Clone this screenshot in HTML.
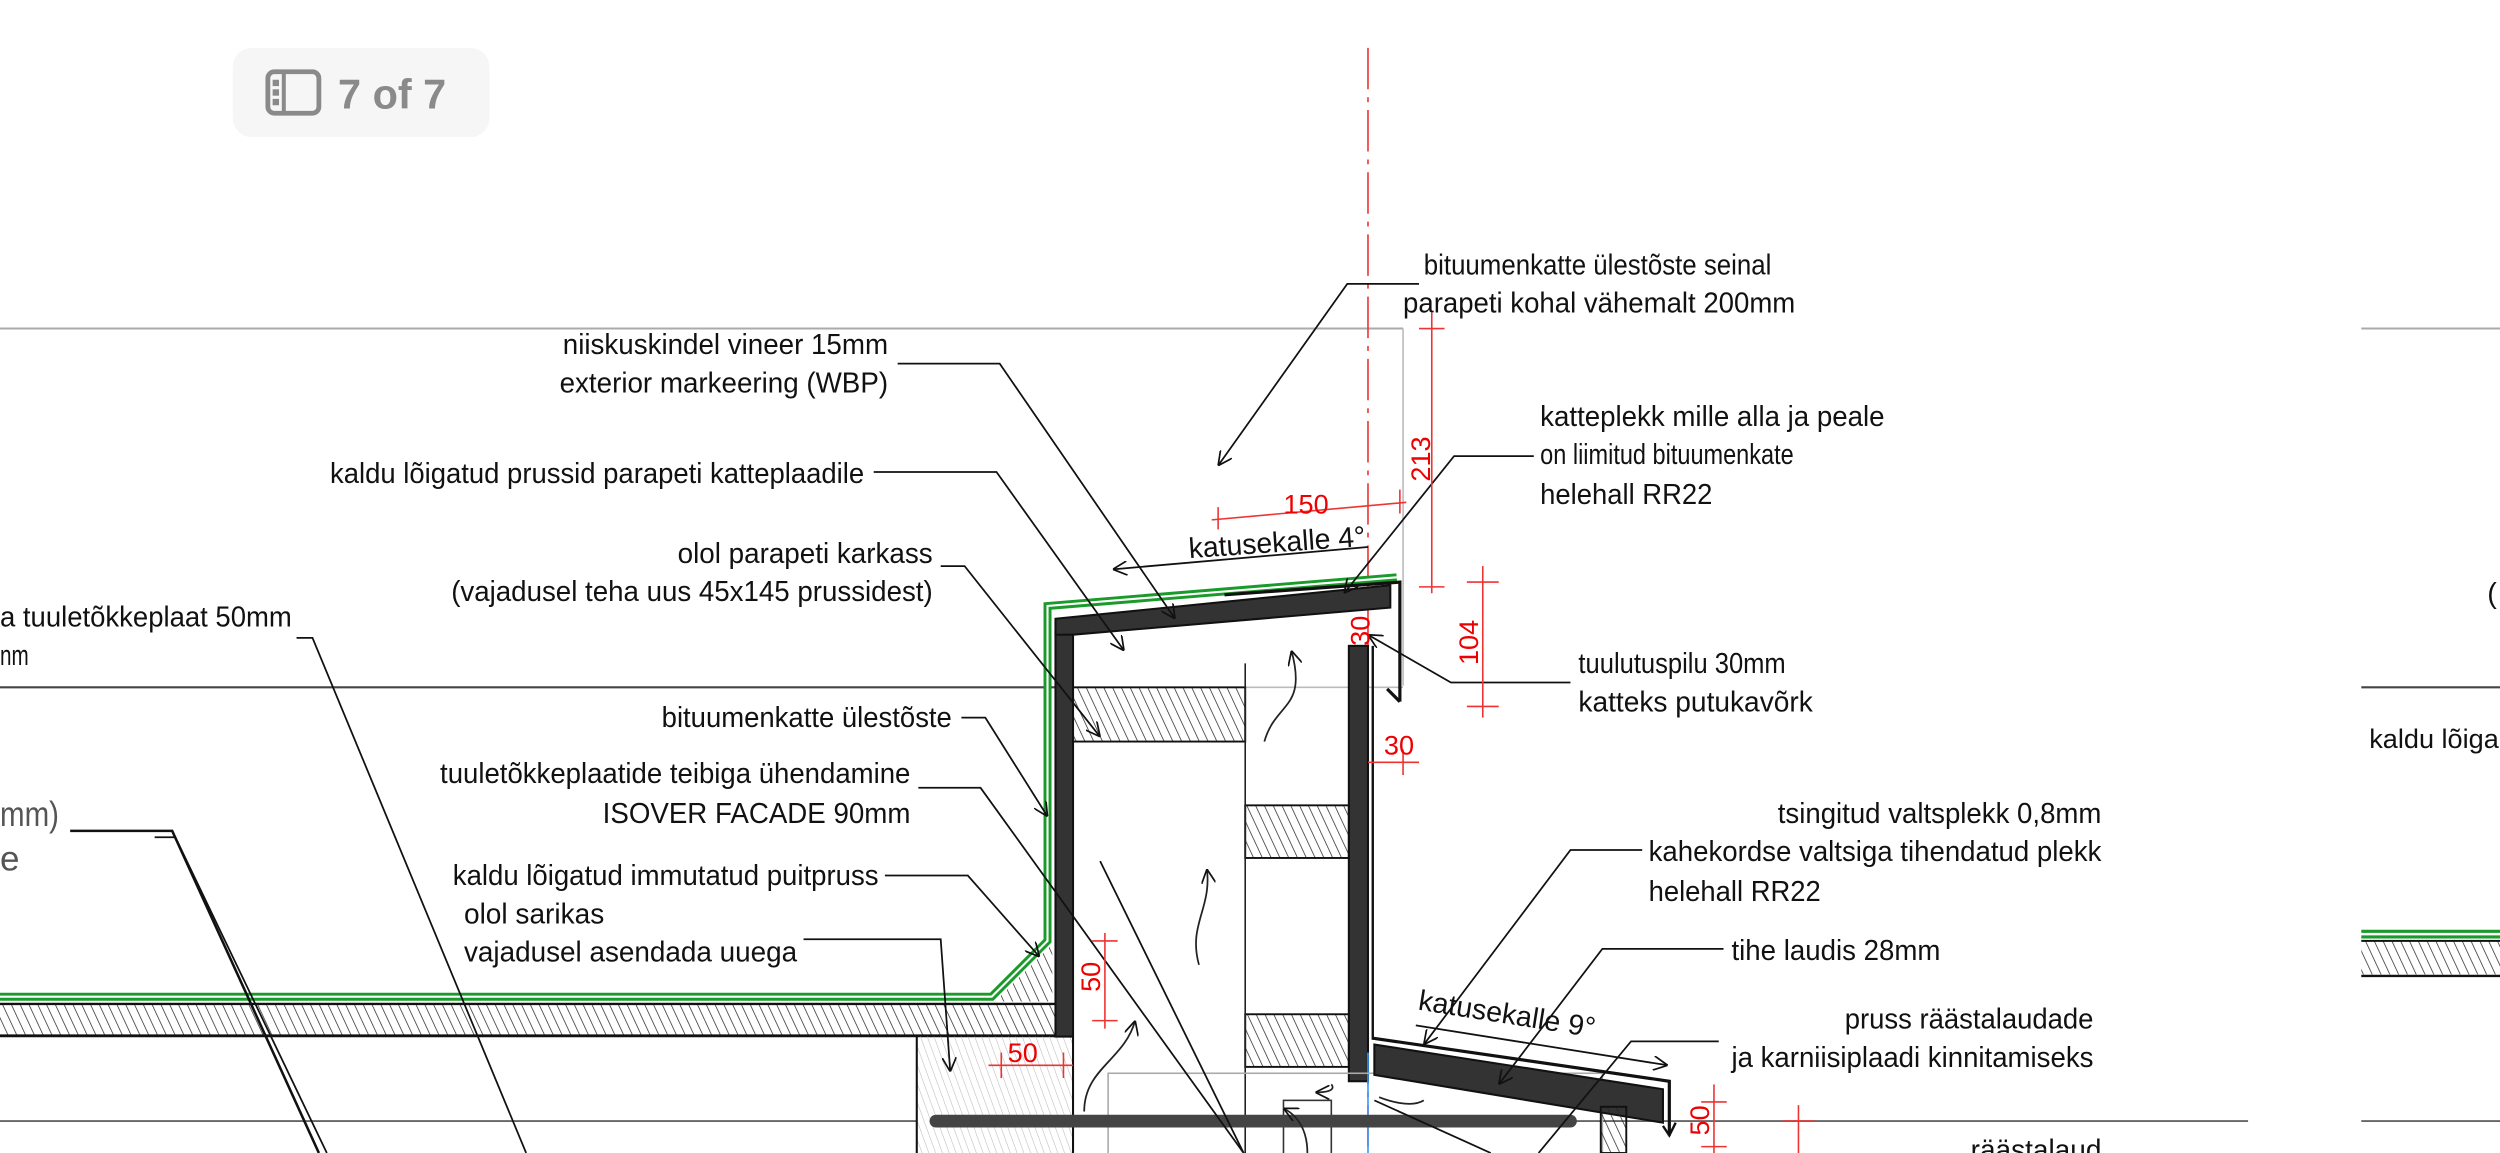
<!DOCTYPE html>
<html><head><meta charset="utf-8"><style>
html,body{margin:0;padding:0;background:#fff;}
svg{display:block}
text{font-family:"Liberation Sans",sans-serif;}
.t{font-size:18px;fill:#111}
.r{font-size:17px;fill:#e00}
</style></head><body>
<svg width="2500" height="1153" viewBox="0 0 1568 723" preserveAspectRatio="none" xmlns="http://www.w3.org/2000/svg">
<defs>
<pattern id="h" width="5" height="5" patternUnits="userSpaceOnUse" patternTransform="rotate(-25)"><line x1="0" y1="0" x2="0" y2="5" stroke="#222" stroke-width="0.9"/></pattern>
<pattern id="hl" width="4" height="4" patternUnits="userSpaceOnUse" patternTransform="rotate(-20)"><line x1="0" y1="0" x2="0" y2="4" stroke="#bbb" stroke-width="0.7"/></pattern>
<marker id="a" viewBox="0 0 10 10" refX="10" refY="5" markerWidth="9" markerHeight="9" orient="auto-start-reverse" markerUnits="userSpaceOnUse"><path d="M0,0 L10,5 L0,10" fill="none" stroke="#111" stroke-width="1.2"/></marker>
</defs>

<rect x="146" y="30" width="161" height="56" rx="12" fill="#f6f6f6"/>
<rect x="168" y="45" width="32" height="26" rx="4" fill="none" stroke="#8a8a8a" stroke-width="3"/>
<line x1="178" y1="45" x2="178" y2="71" stroke="#8a8a8a" stroke-width="2.5"/>
<rect x="171" y="50" width="4" height="4" fill="#8a8a8a"/><rect x="171" y="56" width="4" height="4" fill="#8a8a8a"/><rect x="171" y="62" width="4" height="4" fill="#8a8a8a"/>
<text x="212" y="68" style="font-size:26px;font-weight:bold;fill:#8a8a8a">7 of 7</text>

<line x1="0" y1="206" x2="880" y2="206" stroke="#aaa" stroke-width="1.3"/>
<line x1="1481" y1="206" x2="1568" y2="206" stroke="#aaa" stroke-width="1.3"/>
<line x1="880" y1="206" x2="880" y2="430" stroke="#bbb" stroke-width="1"/>
<line x1="0" y1="431" x2="662" y2="431" stroke="#444" stroke-width="1.3"/>
<line x1="781" y1="431" x2="880" y2="431" stroke="#bbb" stroke-width="1"/>
<line x1="1481" y1="431" x2="1568" y2="431" stroke="#444" stroke-width="1.3"/>
<line x1="0" y1="703" x2="575" y2="703" stroke="#666" stroke-width="1.2"/>
<line x1="985" y1="703" x2="1410" y2="703" stroke="#666" stroke-width="1.2"/>
<line x1="1481" y1="703" x2="1568" y2="703" stroke="#666" stroke-width="1.2"/>

<line x1="858" y1="30" x2="858" y2="723" stroke="#e33" stroke-width="1" stroke-dasharray="26,5,3,5"/>

<rect x="0" y="630" width="662" height="19" fill="url(#h)"/>
<line x1="0" y1="629.5" x2="662" y2="629.5" stroke="#111" stroke-width="1.5"/>
<line x1="0" y1="649.5" x2="673" y2="649.5" stroke="#111" stroke-width="1.8"/>
<polygon points="624,628 660,592 660,628" fill="url(#h)"/>
<rect x="575" y="650" width="98" height="73" fill="url(#hl)"/>
<line x1="575" y1="650" x2="575" y2="723" stroke="#111" stroke-width="1.3"/>
<line x1="673" y1="650" x2="673" y2="723" stroke="#111" stroke-width="1.3"/>
<polyline points="0,625 622,625 657,590 657,380 876,362" fill="none" stroke="#1a9a2a" stroke-width="5"/>
<polyline points="0,625 622,625 657,590 657,380 876,362" fill="none" stroke="#fff" stroke-width="1.3"/>
<rect x="662" y="396" width="11" height="254" fill="#333" stroke="#111" stroke-width="1.3"/>
<polygon points="662,388 872,367 872,381 673,398 662,398" fill="#333" stroke="#111" stroke-width="1.3"/>
<polyline points="768,373 878,365 878,440" fill="none" stroke="#111" stroke-width="2"/>
<polyline points="870,432 878,440" fill="none" stroke="#111" stroke-width="2"/>
<rect x="846" y="405" width="12" height="273" fill="#333" stroke="#111" stroke-width="1.3"/>
<line x1="861" y1="405" x2="861" y2="652" stroke="#111" stroke-width="1.5"/>
<line x1="858" y1="660" x2="858" y2="723" stroke="#39f" stroke-width="1"/>
<rect x="673" y="431" width="108" height="34" fill="url(#h)" stroke="#111" stroke-width="1.2"/>
<rect x="781" y="505" width="65" height="33" fill="url(#h)" stroke="#111" stroke-width="1.2"/>
<rect x="781" y="636" width="65" height="33" fill="url(#h)" stroke="#111" stroke-width="1.2"/>
<line x1="781" y1="416" x2="781" y2="723" stroke="#222" stroke-width="1"/>
<rect x="695" y="673" width="310" height="60" fill="none" stroke="#aaa" stroke-width="1"/>
<rect x="805" y="690" width="30" height="40" fill="none" stroke="#333" stroke-width="1"/>
<polygon points="862,655 1043,683 1043,704 862,674" fill="#333" stroke="#111" stroke-width="1.3"/>
<polyline points="861,651 1047,678 1047,712" fill="none" stroke="#111" stroke-width="2"/>
<polyline points="1043,706 1047,712 1051,704" fill="none" stroke="#111" stroke-width="1.5"/>
<rect x="1004" y="694" width="16" height="29" fill="url(#h)" stroke="#111" stroke-width="1.2"/>
<line x1="587" y1="703" x2="985" y2="703" stroke="#444" stroke-width="8" stroke-linecap="round"/>

<g fill="none" stroke="#222" stroke-width="1.1">
<path d="M793,465 C800,440 820,445 810,408" marker-end="url(#a)"/>
<path d="M752,605 C745,580 760,570 757,545" marker-end="url(#a)"/>
<path d="M680,697 C680,670 705,665 712,640" marker-end="url(#a)"/>
<path d="M835,680 C835,680 840,685 825,685" marker-end="url(#a)"/>
<path d="M893,690 C885,695 870,690 865,688"/>
<path d="M820,723 C820,710 815,700 805,695" marker-end="url(#a)"/>
</g>

<g fill="none" stroke="#111" stroke-width="1.1">
<polyline points="563,228 627,228 737,388" marker-end="url(#a)"/>
<polyline points="548,296 625,296 705,408" marker-end="url(#a)"/>
<polyline points="590,355 605,355 690,462" marker-end="url(#a)"/>
<polyline points="603,450 618,450 657,512" marker-end="url(#a)"/>
<polyline points="576,494 615,494 780,723"/>
<polyline points="555,549 607,549 652,600" marker-end="url(#a)"/>
<polyline points="504,589 590,589 596,672" marker-end="url(#a)"/>
<polyline points="890,178 845,178 764,292" marker-end="url(#a)"/>
<polyline points="962,286 912,286 843,372" marker-end="url(#a)"/>
<polyline points="985,428 910,428 858,398" marker-end="url(#a)"/>
<polyline points="1030,533 985,533 893,655" marker-end="url(#a)"/>
<polyline points="1081,595 1005,595 940,680" marker-end="url(#a)"/>
<polyline points="1078,653 1023,653 965,723"/>
<polyline points="186,400 196,400 330,723"/>
<polyline points="44,521 108,521 200,723" stroke-width="1.6"/>
<polyline points="97,525 110,525 205,723"/>
<line x1="690" y1="540" x2="780" y2="723"/>
<line x1="862" y1="690" x2="935" y2="723"/>
<polyline points="858,343 698,357" marker-end="url(#a)"/>
<polyline points="888,643 1046,668" marker-end="url(#a)"/>
</g>

<g stroke="#e33" stroke-width="1" fill="none">
<line x1="760" y1="326" x2="882" y2="315"/>
<line x1="764" y1="318" x2="764" y2="332"/><line x1="878" y1="307" x2="878" y2="322"/>
<line x1="898" y1="196" x2="898" y2="372"/><line x1="890" y1="206" x2="906" y2="206"/><line x1="890" y1="368" x2="906" y2="368"/>
<line x1="930" y1="355" x2="930" y2="450"/><line x1="920" y1="365" x2="940" y2="365"/><line x1="920" y1="443" x2="940" y2="443"/>
<line x1="858" y1="478" x2="890" y2="478"/><line x1="880" y1="470" x2="880" y2="486"/>
<line x1="693" y1="585" x2="693" y2="645"/><line x1="685" y1="590" x2="701" y2="590"/><line x1="685" y1="640" x2="701" y2="640"/>
<line x1="620" y1="668" x2="673" y2="668"/><line x1="628" y1="660" x2="628" y2="676"/><line x1="667" y1="660" x2="667" y2="676"/>
<line x1="1075" y1="680" x2="1075" y2="723"/><line x1="1067" y1="691" x2="1083" y2="691"/><line x1="1067" y1="719" x2="1083" y2="719"/>
<line x1="1128" y1="693" x2="1128" y2="723"/><line x1="1118" y1="703" x2="1138" y2="703"/>
</g>
<text class="r" x="805" y="322">150</text>
<text class="r" transform="translate(897,302) rotate(-90)">213</text>
<text class="r" transform="translate(927,417) rotate(-90)">104</text>
<text class="r" transform="translate(859,405) rotate(-90)">30</text>
<text class="r" x="868" y="473">30</text>
<text class="r" transform="translate(690,622) rotate(-90)">50</text>
<text class="r" x="632" y="666">50</text>
<text class="r" transform="translate(1072,712) rotate(-90)">50</text>

<text class="t" x="746" y="350" transform="rotate(-4 746 350)" textLength="111" lengthAdjust="spacingAndGlyphs">katusekalle 4°</text>
<text class="t" x="889" y="633" transform="rotate(9 889 633)" textLength="112" lengthAdjust="spacingAndGlyphs">katusekalle 9°</text>
<g>
<text class="t" x="353" y="222" textLength="204" lengthAdjust="spacingAndGlyphs">niiskuskindel vineer 15mm</text>
<text class="t" x="351" y="246" textLength="206" lengthAdjust="spacingAndGlyphs">exterior markeering (WBP)</text>
<text class="t" x="207" y="303" textLength="335" lengthAdjust="spacingAndGlyphs">kaldu lõigatud prussid parapeti katteplaadile</text>
<text class="t" x="425" y="353" textLength="160" lengthAdjust="spacingAndGlyphs">olol parapeti karkass</text>
<text class="t" x="283" y="377" textLength="302" lengthAdjust="spacingAndGlyphs">(vajadusel teha uus 45x145 prussidest)</text>
<text class="t" x="0" y="393" textLength="183" lengthAdjust="spacingAndGlyphs">a tuuletõkkeplaat 50mm</text>
<text class="t" x="0" y="417" textLength="18" lengthAdjust="spacingAndGlyphs">nm</text>
<text class="t" x="415" y="456" textLength="182" lengthAdjust="spacingAndGlyphs">bituumenkatte ülestõste</text>
<text class="t" x="276" y="491" textLength="295" lengthAdjust="spacingAndGlyphs">tuuletõkkeplaatide teibiga ühendamine</text>
<text class="t" x="378" y="516" textLength="193" lengthAdjust="spacingAndGlyphs">ISOVER FACADE 90mm</text>
<text class="t" x="284" y="555" textLength="267" lengthAdjust="spacingAndGlyphs">kaldu lõigatud immutatud puitpruss</text>
<text class="t" x="291" y="579" textLength="88" lengthAdjust="spacingAndGlyphs">olol sarikas</text>
<text class="t" x="291" y="603" textLength="209" lengthAdjust="spacingAndGlyphs">vajadusel asendada uuega</text>
<text class="t" x="893" y="172" textLength="218" lengthAdjust="spacingAndGlyphs">bituumenkatte ülestõste seinal</text>
<text class="t" x="880" y="196" textLength="246" lengthAdjust="spacingAndGlyphs">parapeti kohal vähemalt 200mm</text>
<text class="t" x="966" y="267" textLength="216" lengthAdjust="spacingAndGlyphs">katteplekk mille alla ja peale</text>
<text class="t" x="966" y="291" textLength="159" lengthAdjust="spacingAndGlyphs">on liimitud bituumenkate</text>
<text class="t" x="966" y="316" textLength="108" lengthAdjust="spacingAndGlyphs">helehall RR22</text>
<text class="t" x="990" y="422" textLength="130" lengthAdjust="spacingAndGlyphs">tuulutuspilu 30mm</text>
<text class="t" x="990" y="446" textLength="147" lengthAdjust="spacingAndGlyphs">katteks putukavõrk</text>
<text class="t" x="1115" y="516" textLength="203" lengthAdjust="spacingAndGlyphs">tsingitud valtsplekk 0,8mm</text>
<text class="t" x="1034" y="540" textLength="284" lengthAdjust="spacingAndGlyphs">kahekordse valtsiga tihendatud plekk</text>
<text class="t" x="1034" y="565" textLength="108" lengthAdjust="spacingAndGlyphs">helehall RR22</text>
<text class="t" x="1086" y="602" textLength="131" lengthAdjust="spacingAndGlyphs">tihe laudis 28mm</text>
<text class="t" x="1157" y="645" textLength="156" lengthAdjust="spacingAndGlyphs">pruss räästalaudade</text>
<text class="t" x="1086" y="669" textLength="227" lengthAdjust="spacingAndGlyphs">ja karniisiplaadi kinnitamiseks</text>
<text class="t" x="1236" y="727" textLength="82" lengthAdjust="spacingAndGlyphs">räästalaud</text>
<text x="0" y="518" style="font-size:22px;fill:#555" textLength="37" lengthAdjust="spacingAndGlyphs">mm)</text>
<text x="0" y="546" style="font-size:22px;fill:#555">e</text>
<text class="t" x="1560" y="378">(</text>
<text class="t" x="1486" y="469" style="font-size:17px">kaldu lõiga</text>
</g>

<line x1="1481" y1="584" x2="1568" y2="584" stroke="#1a9a2a" stroke-width="2"/>
<line x1="1481" y1="587.5" x2="1568" y2="587.5" stroke="#1a9a2a" stroke-width="2"/>
<rect x="1481" y="590" width="87" height="21" fill="url(#h)"/>
<line x1="1481" y1="590" x2="1568" y2="590" stroke="#111" stroke-width="1.3"/>
<line x1="1481" y1="612" x2="1568" y2="612" stroke="#111" stroke-width="1.5"/>
</svg>
</body></html>
